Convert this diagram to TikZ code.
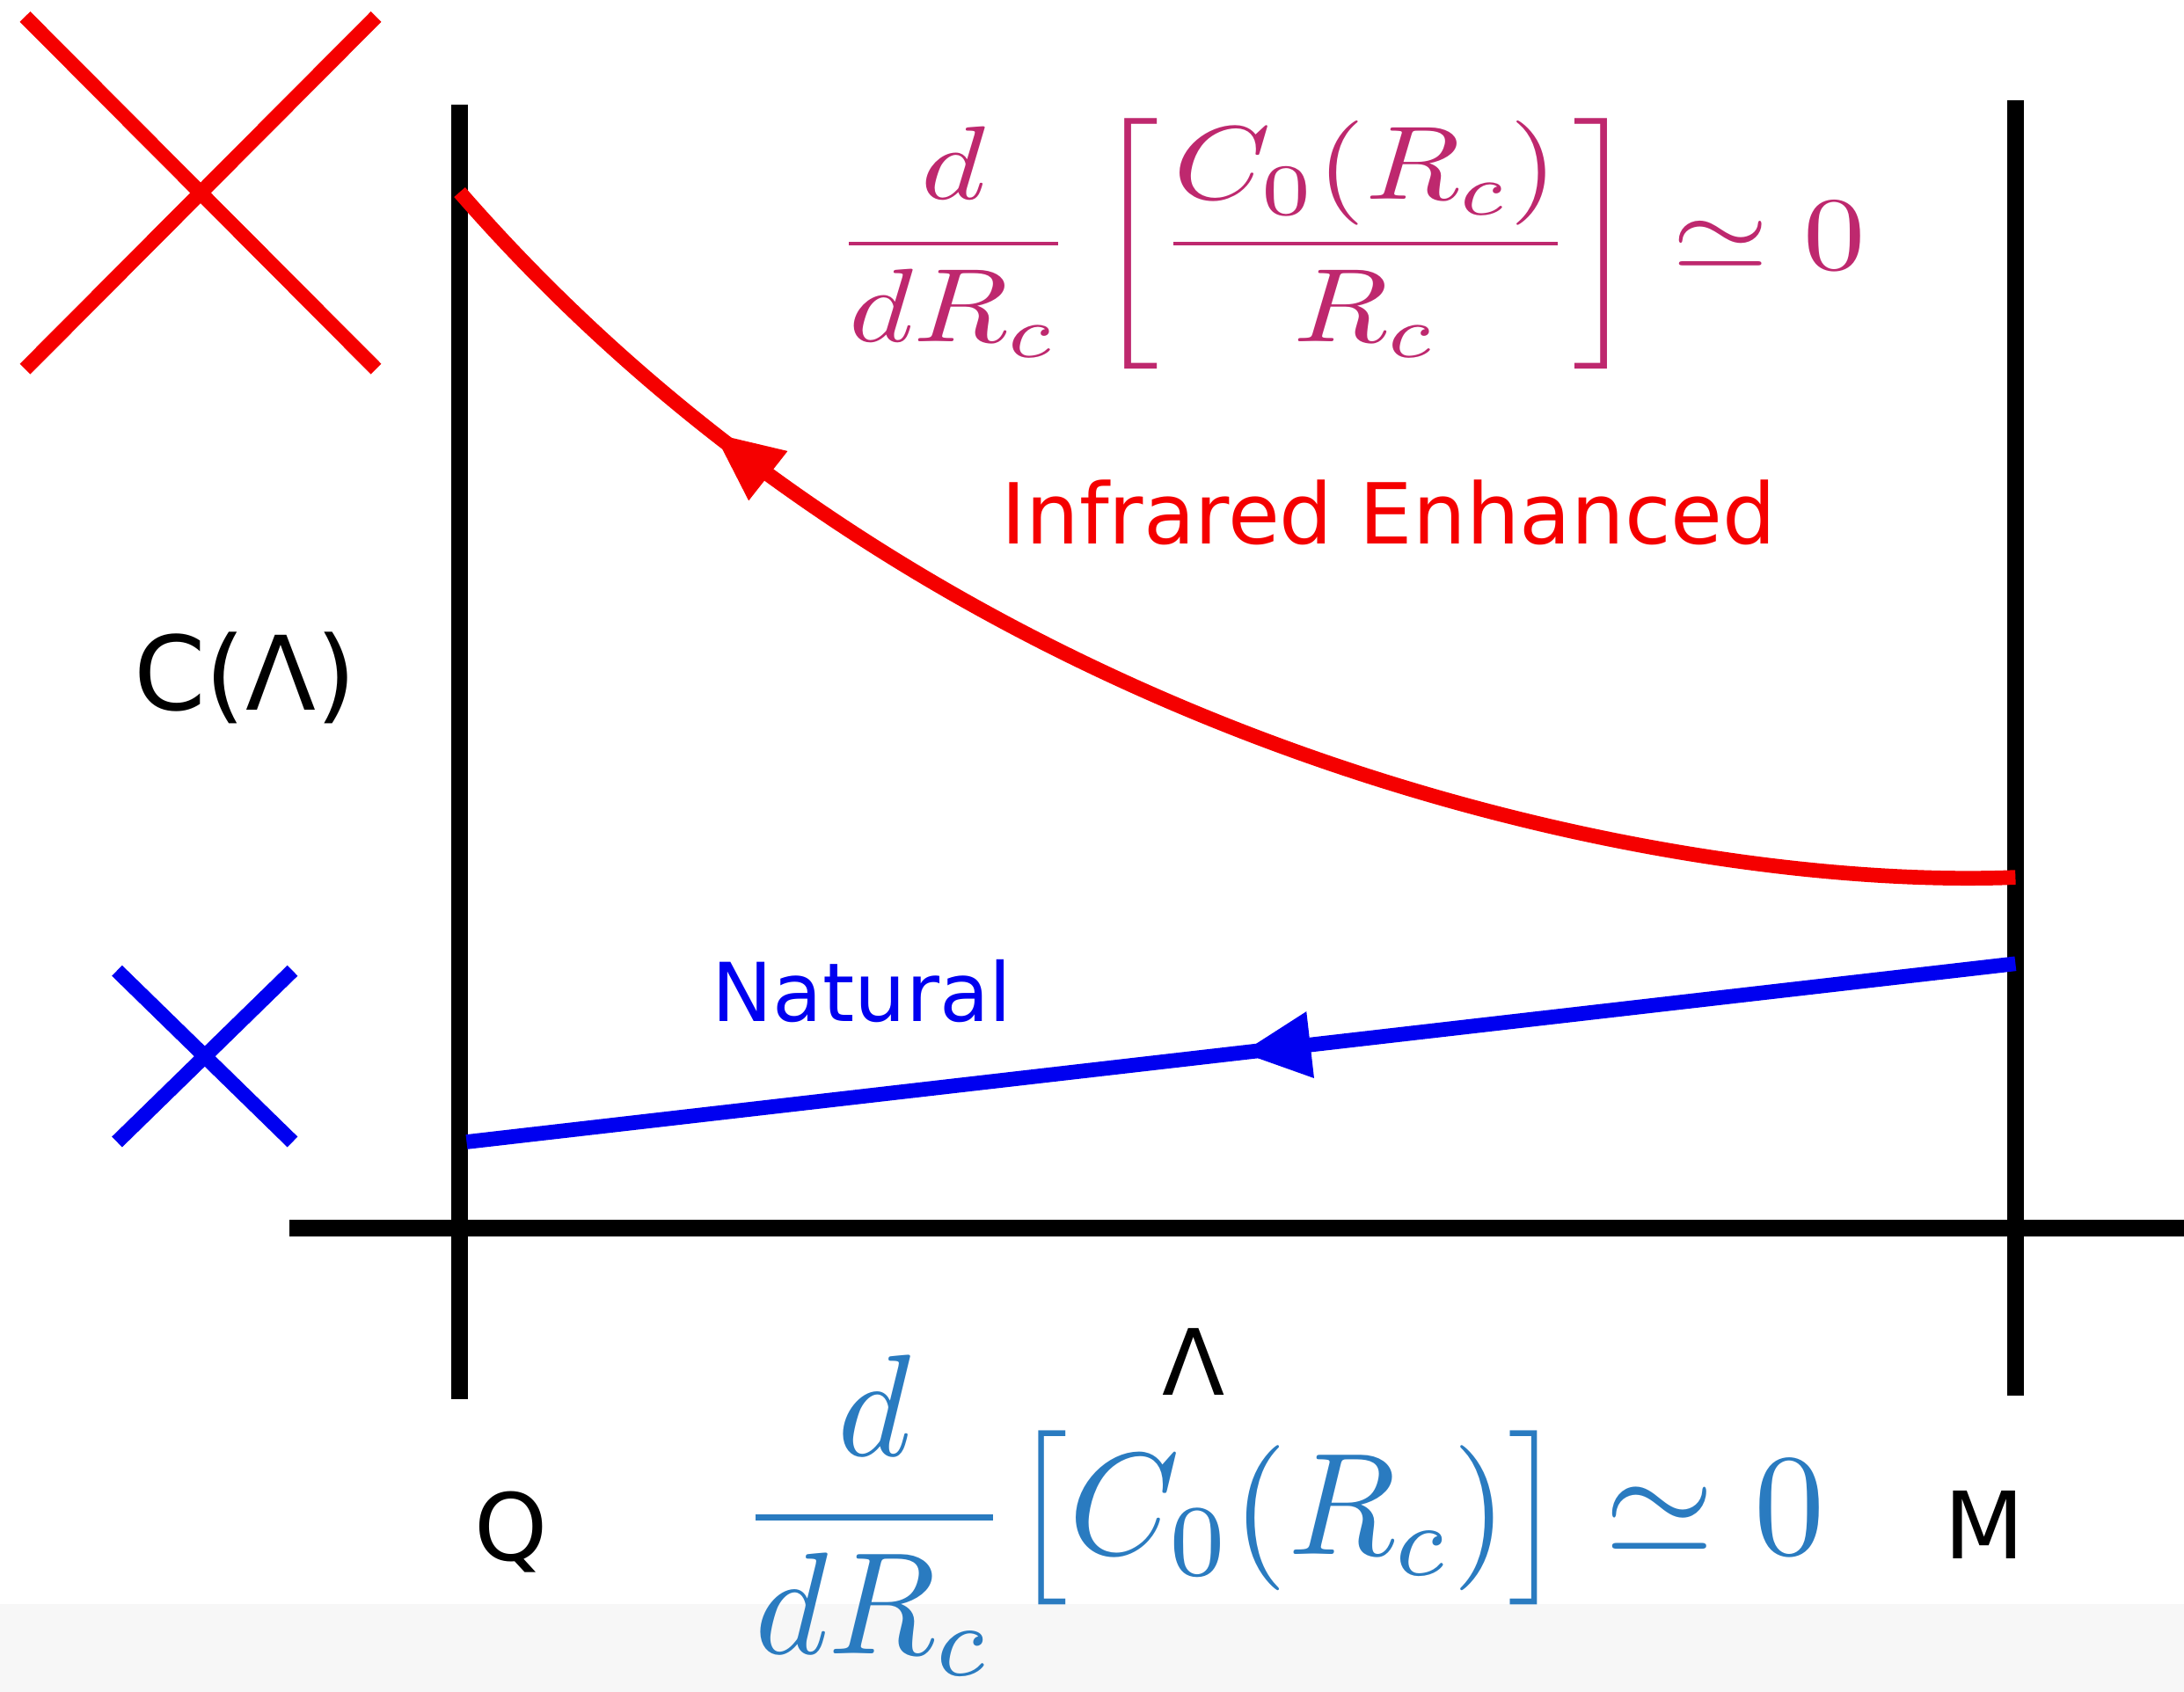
\documentclass[tikz,border=0pt]{standalone}
\usepackage{amsmath,amssymb}
\usepackage{fontspec}
\setmainfont{DejaVu Sans}
\usetikzlibrary{arrows.meta,decorations.markings}
\definecolor{irred}{RGB}{245,0,0}
\definecolor{natblue}{RGB}{0,0,240}
\definecolor{ink}{RGB}{190,40,110}
\definecolor{pen}{RGB}{42,123,192}
\tikzstyle{axisline}=[line width=3.3pt, black]
\tikzstyle{flow}=[line width=3pt]
\tikzstyle{cross}=[line width=3pt]
\tikzstyle{lbl}=[inner sep=0pt]

\begin{document}
\begin{tikzpicture}[x=0.1mm,y=-0.1mm]
\useasboundingbox (0,0) rectangle (1568,1215);
\fill[gray!6] (0,1152) rectangle (1568,1215);
% axes
\coordinate (qtop) at (330,75);
\coordinate (qbot) at (330,1005);
\coordinate (mtop) at (1447,72);
\coordinate (mbot) at (1447,1002);
\coordinate (xleft) at (208,882);
\coordinate (xright) at (1568,882);
\draw[axisline] (qtop) -- (qbot);
\draw[axisline] (mtop) -- (mbot);
\draw[axisline] (xleft) -- (xright);
% flows
\coordinate (irstart) at (1447,630);
\coordinate (irend) at (330,138);
\coordinate (natstart) at (1447,692);
\coordinate (natend) at (335,820);
\draw[flow, irred, postaction={decorate}, decoration={markings,
  mark=at position 0.8 with {\arrow{Triangle[length=5mm,width=4.2mm]}}}]
  (irstart) .. controls (1200,640) and (680,540) .. (irend);
\draw[flow, natblue, postaction={decorate}, decoration={markings,
  mark=at position 0.5 with {\arrow{Triangle[length=5mm,width=4.5mm]}}}]
  (natstart) -- (natend);
% crosses
\draw[cross, irred] (18,12) -- (270,265) (18,265) -- (270,12);
\draw[cross, natblue] (84,697) -- (210,820) (84,820) -- (210,697);
% labels
\node[lbl, irred, font=\fontsize{17.2}{20}\selectfont] (irlabel) at (997,368) {Infrared Enhanced};
\node[lbl, natblue, font=\fontsize{16.6}{20}\selectfont] (natlabel) at (619,712) {Natural};
\node[lbl, font=\fontsize{21}{24}\selectfont] (ylabel) at (176,487) {C(Λ)};
\node[lbl, font=\fontsize{18.7}{22}\selectfont] (xlabel) at (857,978) {Λ};
\node[lbl, font=\fontsize{19}{22}\selectfont] (qlabel) at (367,1100) {Q};
\node[lbl, font=\fontsize{19}{22}\selectfont] (mlabel) at (1425,1095) {M};
\node[lbl, ink] (irrule) at (969,175)
  {\resizebox*{74mm}{18mm}{$\displaystyle\frac{d}{dR_c}\left[\frac{C_0(R_c)}{R_c}\right]\simeq 0$}};
\node[lbl, pen] (natrule) at (920,1088)
  {\resizebox*{78mm}{23mm}{$\displaystyle\frac{d}{dR_c}\bigl[C_0(R_c)\bigr]\simeq 0$}};
\end{tikzpicture}
\end{document}
